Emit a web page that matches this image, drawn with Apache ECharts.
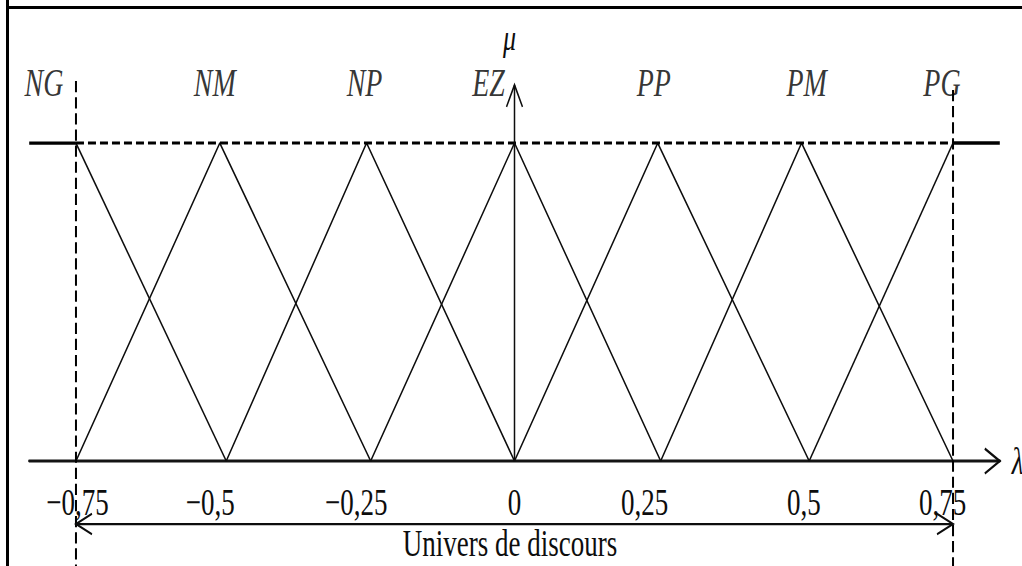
<!DOCTYPE html>
<html>
<head>
<meta charset="utf-8">
<script src="https://cdn.jsdelivr.net/npm/echarts@6/dist/echarts.min.js"></script>
<style>
  html, body { margin: 0; padding: 0; background: #fff; }
  #page { position: relative; width: 1022px; height: 566px; overflow: hidden; background: #fff; }
  /* the figure is drawn at 1022x404 and stretched vertically to 566 px */
  #chart { position: absolute; left: 0; top: 0; width: 1022px; height: 404px; transform: scaleY(1.40099); transform-origin: 0 0; }
</style>
</head>
<body>
<div id="page"><div id="chart"></div></div>
<script>
// Fuzzy partition of the universe of discourse: seven triangular sets
const setNames = ['NG', 'NM', 'NP', 'EZ', 'PP', 'PM', 'PG'];
// abscissa of each set's summit (mu = 1)
const peaks = [-0.75, -0.504, -0.253, 0, 0.245, 0.491, 0.75];
// abscissa of the base corners (mu = 0) under each summit position
const feet = [-0.75, -0.493, -0.246, 0, 0.25, 0.504, 0.75];
// graduations of the lambda axis
const tickValues = [-0.75, -0.5, -0.25, 0, 0.25, 0.5, 0.75];
const tickLabels = ['−0,75', '−0,5', '−0,25', '0', '0,25', '0,5', '0,75'];
// extent of the drawn lambda axis
const universe = [-0.83, 0.83];

// layout constants
const MU_MAX = 1.45;
const MU_LOW = -0.33;         // lower end of the dashed bounds
const NAME_LEVEL = 1.19;      // height of the set names
const MU_ARROW = 1.183;       // tip of the mu axis
const MU_LABEL = 1.33;        // mu axis caption
const SPAN_LEVEL = -0.198;    // "Univers de discours" double arrow
const GUIDE_TOP = [1.195, 1.167];
const tickNudge = [1.5, -12, -12, 0, -16, -3, -10.5];
const nameNudge = [-32, -5, -2, -26, -4, 5, -11];

const INK = '#0d0d0d';
const SERIF = '"Liberation Serif", "Times New Roman", serif';

const chart = echarts.init(document.getElementById('chart'), null, { renderer: 'svg' });

function setData(i) {
  if (i === 0) return [[peaks[0], 1], [feet[1], 0]];
  if (i === peaks.length - 1) return [[feet[i - 1], 0], [peaks[i], 1]];
  return [[feet[i - 1], 0], [peaks[i], 1], [feet[i + 1], 0]];
}

const plain = { showSymbol: false, silent: true, animation: false, clip: false, z: 3 };

const series = [];
setNames.forEach((n, i) => {
  series.push(Object.assign({
    type: 'line', name: n, data: setData(i),
    lineStyle: { color: INK, width: 1.4 }
  }, plain));
});
// saturation of NG and PG outside the partition
series.push(Object.assign({ type: 'line', data: [[universe[0], 1], [peaks[0], 1]],
  lineStyle: { color: '#000', width: 2.3 } }, plain));
series.push(Object.assign({ type: 'line', data: [[peaks[6], 1], [universe[1], 1]],
  lineStyle: { color: '#000', width: 2.5 } }, plain));
// dashed mu = 1 level
series.push(Object.assign({ type: 'line', data: [[peaks[0], 1], [peaks[6], 1]],
  lineStyle: { color: '#000', width: 2.1, type: [8, 4] } }, plain));
// dashed bounds of the universe
series.push(Object.assign({ type: 'line', data: [[tickValues[0], GUIDE_TOP[0]], [tickValues[0], MU_LOW]],
  lineStyle: { color: '#000', width: 2, type: [8, 3.5] } }, plain));
series.push(Object.assign({ type: 'line', data: [[tickValues[6], GUIDE_TOP[1]], [tickValues[6], MU_LOW]],
  lineStyle: { color: '#000', width: 2, type: [8, 3.5] } }, plain));
// mu axis
series.push(Object.assign({ type: 'line', data: [[0, 0], [0, MU_ARROW]],
  lineStyle: { color: INK, width: 1.5 } }, plain));
// set names above each summit
series.push({
  type: 'scatter', silent: true, animation: false, symbolSize: 0, z: 4,
  data: peaks.map((p, i) => ({ value: [p, NAME_LEVEL], label: { offset: [nameNudge[i], 0] } })),
  label: {
    show: true, position: 'inside', color: '#000',
    fontFamily: SERIF, fontStyle: 'italic', fontSize: 28,
    formatter: (p) => setNames[p.dataIndex]
  }
});

const rich = {};
tickValues.forEach((v, i) => {
  const d = tickNudge[i];
  rich['t' + i] = {
    fontFamily: SERIF, fontSize: 27, color: INK,
    padding: d < 0 ? [0, -2 * d, 0, 0] : [0, 0, 0, 2 * d]
  };
});

chart.setOption({
  backgroundColor: '#fff',
  animation: false,
  // plot area runs from mu = 0 (bottom) to the top of the frame
  grid: { left: 29.2, right: 22.2, top: 0, bottom: 74.9, containLabel: false, outerBoundsMode: 'none' },
  xAxis: {
    type: 'value', min: universe[0], max: universe[1],
    axisLine: { show: true, lineStyle: { color: '#141414', width: 2.1 } },
    axisTick: { show: false },
    splitLine: { show: false },
    axisLabel: {
      show: true, margin: 16, customValues: tickValues, rich: rich,
      formatter: (v) => {
        const i = tickValues.findIndex((t) => Math.abs(t - v) < 1e-9);
        return i < 0 ? '' : '{t' + i + '|' + tickLabels[i] + '}';
      }
    },
    name: 'λ', nameLocation: 'end', nameGap: 12,
    nameTextStyle: { fontFamily: SERIF, fontStyle: 'italic', fontSize: 27, color: INK, verticalAlign: 'middle' }
  },
  yAxis: {
    type: 'value', min: 0, max: MU_MAX, show: false
  },
  series: series
});

// arrows, frame and captions placed through the axes' scales
const P = (x, y) => chart.convertToPixel({ gridIndex: 0 }, [x, y]);
const chevron = (tip, dx, dy, w) => ({
  type: 'polyline', silent: true, z: 10,
  shape: { points: [[tip[0] + dx, tip[1] - dy], tip, [tip[0] + dx, tip[1] + dy]] },
  style: { stroke: INK, lineWidth: w, fill: null }
});

const xTip = P(universe[1], 0);
const yTip = P(0, MU_ARROW);
const spanL = P(tickValues[0], SPAN_LEVEL);
const spanR = P(tickValues[6], SPAN_LEVEL);
const muPos = P(0, MU_LABEL);

chart.setOption({
  graphic: [
    // page frame
    { type: 'line', silent: true, z: 10, shape: { x1: 7.5, y1: 0, x2: 7.5, y2: 404 }, style: { stroke: '#000', lineWidth: 3 } },
    { type: 'line', silent: true, z: 10, shape: { x1: 6, y1: 5.35, x2: 1022, y2: 5.35 }, style: { stroke: '#000', lineWidth: 2.14 } },
    // axis arrowheads
    chevron(xTip, -15, 8.9, 1.8),
    { type: 'polyline', silent: true, z: 10,
      shape: { points: [[yTip[0] - 8, yTip[1] + 15.7], yTip, [yTip[0] + 8, yTip[1] + 15.7]] },
      style: { stroke: INK, lineWidth: 1.5, fill: null } },
    // universe of discourse double arrow
    { type: 'line', silent: true, z: 10, shape: { x1: spanL[0], y1: spanL[1], x2: spanR[0], y2: spanR[1] },
      style: { stroke: INK, lineWidth: 1.6 } },
    chevron(spanL, 16, 7.3, 1.6),
    chevron(spanR, -16, 7.3, 1.6),
    { type: 'text', silent: true, z: 10, x: (spanL[0] + spanR[0]) / 2 - 4.5, y: 388,
      style: { text: 'Univers de discours', fontFamily: SERIF, fontSize: 27, fill: INK, align: 'center', verticalAlign: 'middle' } },
    // mu caption
    { type: 'text', silent: true, z: 10, x: muPos[0] - 5, y: muPos[1],
      style: { text: 'μ', fontFamily: SERIF, fontStyle: 'italic', fontSize: 26, fill: INK, align: 'center', verticalAlign: 'middle' } }
  ]
});
</script>
</body>
</html>
